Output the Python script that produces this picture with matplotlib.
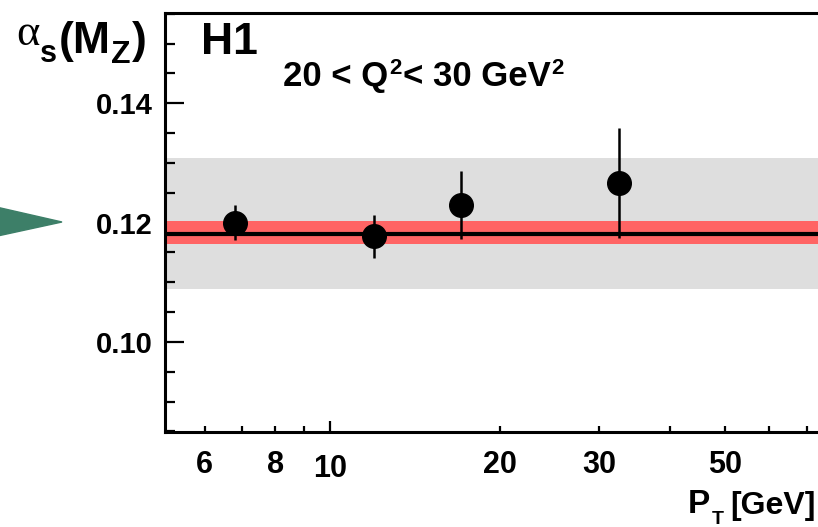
#!/usr/bin/env python3

import matplotlib
matplotlib.use("Agg")
import matplotlib.pyplot as plt
from matplotlib.patches import Polygon
from matplotlib.ticker import FixedLocator, FixedFormatter

# measured points
pt = [6.79, 11.96, 17.06, 32.5]
alphas = [0.1200, 0.1177, 0.1230, 0.1266]
err_up = [0.0029, 0.0035, 0.0056, 0.0093]
err_dn = [0.0029, 0.0037, 0.0057, 0.0092]

# world average and uncertainty bands
central = 0.1181
exp_band = (0.1164, 0.1202)
theo_band = (0.1089, 0.1308)

xticks_minor = [6, 7, 8, 9, 20, 30, 40, 50, 60, 70]
xlabels_minor = ["6", "", "8", "", "20", "30", "", "50", "", ""]

W, H = 818, 527
FONT = "Liberation Sans"


def fx(px):
    return px / W


def fy(py):
    return 1 - py / H


def run(fig, x, base, pieces):
    # lay out pieces of text one after the other on a baseline (pixels)
    rend = fig.canvas.get_renderer()
    for s, size, dy, kw in pieces:
        t = fig.text(fx(x), fy(base + dy), s, fontsize=size, va="baseline",
                     ha="left", **kw)
        bb = t.get_window_extent(renderer=rend)
        x = bb.x1 + 1
    return x


def main():
    plt.rcParams["font.family"] = FONT
    plt.rcParams["font.weight"] = "bold"

    fig = plt.figure(figsize=(W / 100, H / 100), dpi=100)
    ax = fig.add_axes([fx(165), fy(432), fx(824) - fx(165), fy(12.5) - fy(432)])
    ax.set_xscale("log")
    ax.set_xlim(5.105, 10 ** (1 + (824 - 330) / 564.7))
    ax.set_ylim(0.0849, 0.1552)

    ax.axhspan(theo_band[0], theo_band[1], color="#dedede", lw=0, zorder=1)
    ax.axhspan(exp_band[0], exp_band[1], color="#ff6464", lw=0, zorder=2)
    ax.axhline(central, color="black", lw=3, zorder=3)
    ax.errorbar(pt, alphas, yerr=[err_dn, err_up], fmt="o", color="black",
                ms=17, elinewidth=1.8, capsize=0, zorder=4)

    for s in ["left", "bottom", "top"]:
        ax.spines[s].set_linewidth(2.2)
    ax.spines["right"].set_visible(False)

    ax.set_yticks([0.10, 0.12, 0.14])
    ax.set_yticklabels(["0.10", "0.12", "0.14"])
    ax.yaxis.set_minor_locator(FixedLocator([0.085 + 0.005 * i for i in range(15)]))
    ax.tick_params(axis="y", which="major", direction="in", length=14, width=1.6,
                   labelsize=21, pad=9, right=False)
    ax.tick_params(axis="y", which="minor", direction="in", length=7, width=1.6,
                   right=False)

    ax.xaxis.set_major_locator(FixedLocator([10]))
    ax.xaxis.set_major_formatter(FixedFormatter(["10"]))
    ax.xaxis.set_minor_locator(FixedLocator(xticks_minor))
    ax.xaxis.set_minor_formatter(FixedFormatter(xlabels_minor))
    ax.tick_params(axis="x", which="major", direction="in", length=8, width=1.6,
                   labelsize=22, pad=16, top=False)
    ax.tick_params(axis="x", which="minor", direction="in", length=4, width=1.6,
                   labelsize=22, pad=13, top=False)
    for lab in ax.get_xticklabels(which="both") + ax.get_yticklabels():
        lab.set_fontweight("bold")

    ax.text(0.055, 0.9285, "H1", transform=ax.transAxes, fontsize=32,
            fontweight="bold", va="center", ha="left")

    # header
    run(fig, 283, 86, [
        ("20 < Q", 25, 0, {"fontweight": "bold"}),
        ("2", 16, -12, {"fontweight": "bold"}),
        ("< 30 GeV", 25, 0, {"fontweight": "bold"}),
        ("2", 16, -12, {"fontweight": "bold"}),
    ])

    # y axis title
    run(fig, 16, 45, [
        ("α", 32, 0, {"family": "Liberation Serif", "fontweight": "normal"}),
        ("s", 22, 17, {"fontweight": "bold"}),
        ("(M", 32, 8, {"fontweight": "bold"}),
        ("Z", 23, 18, {"fontweight": "bold"}),
        (")", 32, 8, {"fontweight": "bold"}),
    ])

    # x axis title
    x_end = run(fig, 688, 513, [
        ("P", 24, 0, {"fontweight": "bold"}),
        ("T", 14, 11, {"fontweight": "bold"}),
    ])
    fig.text(fx(x_end + 6), fy(514), "[GeV]", fontsize=23, fontweight="bold",
             va="baseline", ha="left")

    # marker arrow at the left
    tri = Polygon([(fx(-30), fy(201)), (fx(62), fy(222)), (fx(-30), fy(242))],
                  closed=True, transform=fig.transFigure, color="#3d7f68",
                  clip_on=False)
    fig.patches.append(tri)

    fig.savefig("out.png", dpi=100)


if __name__ == "__main__":
    main()
